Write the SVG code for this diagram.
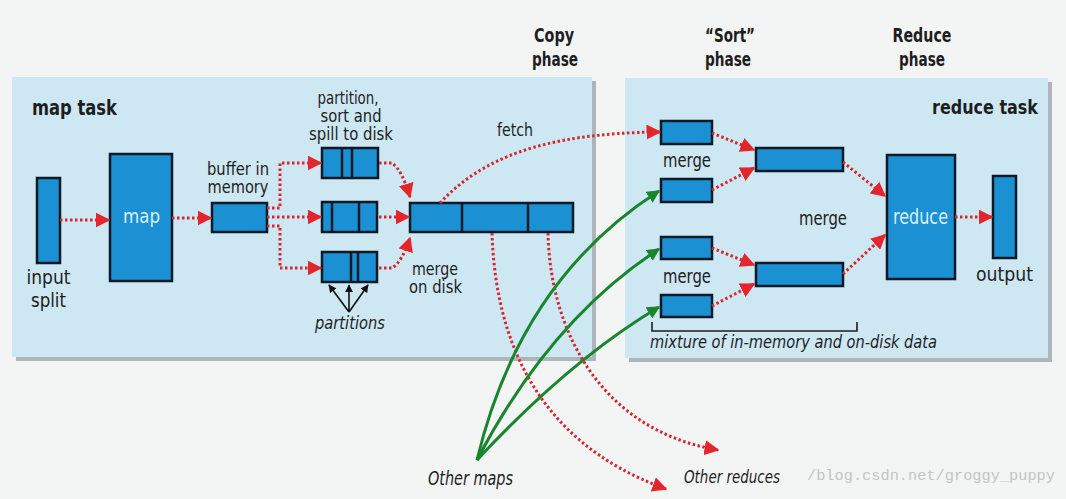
<svg xmlns="http://www.w3.org/2000/svg" width="1066" height="499" viewBox="0 0 1066 499">
<style>
.bg{fill:#f3f4f4}
.panel{fill:#cde7f3}
.shadow{fill:#8e9aa2;opacity:0.7}
.box{fill:#1b90d2;stroke:#0c1a26;stroke-width:2.5}
.div{stroke:#0c1a26;stroke-width:2.5}
.t{font-family:"DejaVu Sans","Liberation Sans",sans-serif;fill:#1e1e1e;text-anchor:middle}
.b{font-weight:bold}
.i{font-style:italic}
.w{fill:#d9f1fb}
.red{fill:none;stroke:#d9262c;stroke-width:3;stroke-dasharray:2.5 2.5}
.grn{fill:none;stroke:#19862e;stroke-width:3}
.blk{fill:none;stroke:#111;stroke-width:1.6}
</style>
<defs>
<marker id="ar" viewBox="0 0 10 10" refX="9" refY="5" markerUnits="userSpaceOnUse" markerWidth="15" markerHeight="15" orient="auto"><path d="M0,0 L10,5 L0,10 z" fill="#e4262c"/></marker>
<marker id="ag" viewBox="0 0 10 10" refX="9" refY="5" markerUnits="userSpaceOnUse" markerWidth="13" markerHeight="13" orient="auto"><path d="M0,0 L10,5 L0,10 z" fill="#19862e"/></marker>
<marker id="ak" viewBox="0 0 10 10" refX="9" refY="5" markerUnits="userSpaceOnUse" markerWidth="8" markerHeight="8" orient="auto"><path d="M0,0 L10,5 L0,10 z" fill="#111"/></marker>
</defs>
<rect class="bg" x="0" y="0" width="1066" height="499"/>

<g id="map-task-panel">
<rect class="shadow" x="16" y="81" width="580" height="280"/>
<rect class="panel" x="12" y="77" width="580" height="280"/>
<text class="t b" x="74.5" y="115" font-size="21" textLength="85" lengthAdjust="spacingAndGlyphs">map task</text>
</g>
<g id="reduce-task-panel">
<rect class="shadow" x="629" y="82" width="423" height="280"/>
<rect class="panel" x="625" y="78" width="423" height="280"/>
<text class="t b" x="985" y="114" font-size="20" textLength="106" lengthAdjust="spacingAndGlyphs">reduce task</text>
</g>

<g id="phase-labels">
<text class="t b" x="554" y="42" font-size="20" textLength="40" lengthAdjust="spacingAndGlyphs">Copy</text>
<text class="t b" x="555" y="66" font-size="20" textLength="46" lengthAdjust="spacingAndGlyphs">phase</text>
<text class="t b" x="730" y="42" font-size="20" textLength="50" lengthAdjust="spacingAndGlyphs">“Sort”</text>
<text class="t b" x="728" y="66" font-size="20" textLength="46" lengthAdjust="spacingAndGlyphs">phase</text>
<text class="t b" x="922" y="42" font-size="20" textLength="59" lengthAdjust="spacingAndGlyphs">Reduce</text>
<text class="t b" x="922" y="66" font-size="20" textLength="46" lengthAdjust="spacingAndGlyphs">phase</text>
</g>

<g id="input-split">
<rect class="box" x="37" y="178" width="23" height="85"/>
<text class="t" x="48.5" y="284" font-size="20" textLength="44" lengthAdjust="spacingAndGlyphs">input</text>
<text class="t" x="48.5" y="307" font-size="20" textLength="35" lengthAdjust="spacingAndGlyphs">split</text>
</g>
<g id="map">
<rect class="box" x="110" y="154" width="62" height="127"/>
<text class="t w" x="141.5" y="223" font-size="20" textLength="37" lengthAdjust="spacingAndGlyphs">map</text>
</g>
<g id="buffer">
<rect class="box" x="212" y="203" width="55" height="29"/>
<text class="t" x="238" y="175" font-size="17" textLength="62" lengthAdjust="spacingAndGlyphs">buffer in</text>
<text class="t" x="238" y="193" font-size="17" textLength="61" lengthAdjust="spacingAndGlyphs">memory</text>
</g>
<g id="spills">
<text class="t" x="348" y="104" font-size="17" textLength="61" lengthAdjust="spacingAndGlyphs">partition,</text>
<text class="t" x="351" y="122" font-size="17" textLength="61" lengthAdjust="spacingAndGlyphs">sort and</text>
<text class="t" x="351" y="140" font-size="17" textLength="84" lengthAdjust="spacingAndGlyphs">spill to disk</text>
<rect class="box" x="322" y="148" width="56" height="30"/>
<line class="div" x1="342" y1="148" x2="342" y2="178"/>
<line class="div" x1="352" y1="148" x2="352" y2="178"/>
<rect class="box" x="322" y="202" width="55" height="30"/>
<line class="div" x1="332" y1="202" x2="332" y2="232"/>
<line class="div" x1="359" y1="202" x2="359" y2="232"/>
<rect class="box" x="322" y="252" width="55" height="30"/>
<line class="div" x1="351" y1="252" x2="351" y2="282"/>
<line class="div" x1="358" y1="252" x2="358" y2="282"/>
<text class="t i" x="350" y="329" font-size="18" textLength="70" lengthAdjust="spacingAndGlyphs">partitions</text>
</g>
<g id="merge-on-disk">
<rect class="box" x="410" y="203" width="163" height="29"/>
<line class="div" x1="462" y1="203" x2="462" y2="232"/>
<line class="div" x1="528" y1="203" x2="528" y2="232"/>
<text class="t" x="435" y="275" font-size="17" textLength="46" lengthAdjust="spacingAndGlyphs">merge</text>
<text class="t" x="435.5" y="293" font-size="17" textLength="53" lengthAdjust="spacingAndGlyphs">on disk</text>
</g>
<g id="fetch-label"><text class="t" x="515" y="136" font-size="18" textLength="36" lengthAdjust="spacingAndGlyphs">fetch</text></g>

<g id="reduce-merges">
<rect class="box" x="661" y="121" width="51" height="23"/>
<rect class="box" x="661" y="179" width="51" height="23"/>
<rect class="box" x="661" y="237" width="51" height="22"/>
<rect class="box" x="661" y="295" width="51" height="22"/>
<text class="t" x="687" y="167" font-size="19" textLength="48" lengthAdjust="spacingAndGlyphs">merge</text>
<text class="t" x="687" y="283" font-size="19" textLength="48" lengthAdjust="spacingAndGlyphs">merge</text>
<rect class="box" x="756" y="148" width="87" height="23"/>
<rect class="box" x="756" y="263" width="87" height="23"/>
<text class="t" x="823" y="225" font-size="19" textLength="48" lengthAdjust="spacingAndGlyphs">merge</text>
<path d="M652,322 L652,331 L857,331 L857,322" fill="none" stroke="#1e1e1e" stroke-width="1.6"/>
<text class="t i" x="793.5" y="348" font-size="18" textLength="287" lengthAdjust="spacingAndGlyphs">mixture of in-memory and on-disk data</text>
</g>
<g id="reduce">
<rect class="box" x="887" y="155" width="68" height="124"/>
<text class="t w" x="920.5" y="224" font-size="21" textLength="55" lengthAdjust="spacingAndGlyphs">reduce</text>
</g>
<g id="output">
<rect class="box" x="993" y="176" width="23" height="82"/>
<text class="t" x="1004.5" y="281" font-size="20" textLength="57" lengthAdjust="spacingAndGlyphs">output</text>
</g>
<g id="external-labels">
<text class="t i" x="470.5" y="485" font-size="19" textLength="85" lengthAdjust="spacingAndGlyphs">Other maps</text>
<text class="t i" x="732" y="483" font-size="18" textLength="96" lengthAdjust="spacingAndGlyphs">Other reduces</text>
<text x="807" y="480" font-size="15.5" font-family="'Liberation Mono',monospace" fill="#c4c4c4" textLength="248" lengthAdjust="spacingAndGlyphs">/blog.csdn.net/groggy_puppy</text>
</g>

<g id="connectors">
<path class="red" d="M60,220 L109,220" marker-end="url(#ar)"/>
<path class="red" d="M172,218 L211,218" marker-end="url(#ar)"/>
<path class="red" d="M267,208 L280,208 L280,163 L321,163" marker-end="url(#ar)"/>
<path class="red" d="M267,217 L321,217" marker-end="url(#ar)"/>
<path class="red" d="M267,226 L280,226 L280,268 L321,268" marker-end="url(#ar)"/>
<path class="red" d="M379,163 L392,163 Q402,170 410,197" marker-end="url(#ar)"/>
<path class="red" d="M379,217 L409,217" marker-end="url(#ar)"/>
<path class="red" d="M379,268 L392,268 Q402,262 410,238" marker-end="url(#ar)"/>
<path class="red" d="M440,203 C480,160 540,133 660,132" marker-end="url(#ar)"/>
<path class="red" d="M492,233 C495,330 530,440 666,489" marker-end="url(#ar)"/>
<path class="red" d="M548,233 C550,330 600,430 718,450" marker-end="url(#ar)"/>
<path class="grn" d="M477,460 Q520,280 659,191" marker-end="url(#ag)"/>
<path class="grn" d="M477,460 Q550,320 659,249" marker-end="url(#ag)"/>
<path class="grn" d="M477,460 Q570,360 659,307" marker-end="url(#ag)"/>
<path class="blk" d="M349,312 L329,285" marker-end="url(#ak)"/>
<path class="blk" d="M349,312 L349,285" marker-end="url(#ak)"/>
<path class="blk" d="M349,312 L368,285" marker-end="url(#ak)"/>
<path class="red" d="M712,133 L754,150" marker-end="url(#ar)"/>
<path class="red" d="M712,190 L754,168" marker-end="url(#ar)"/>
<path class="red" d="M712,248 L754,265" marker-end="url(#ar)"/>
<path class="red" d="M712,306 L754,284" marker-end="url(#ar)"/>
<path class="red" d="M843,162 L885,196" marker-end="url(#ar)"/>
<path class="red" d="M843,274 L885,235" marker-end="url(#ar)"/>
<path class="red" d="M955,217 L992,217" marker-end="url(#ar)"/>
</g>
</svg>
